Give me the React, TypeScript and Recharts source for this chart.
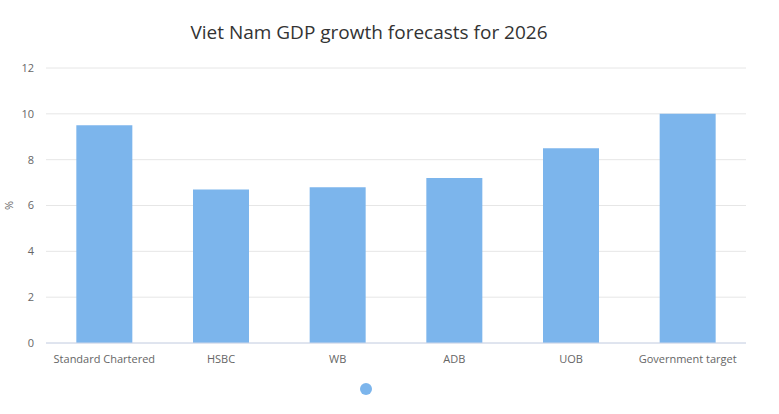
import { Bar, BarChart, CartesianGrid, XAxis, YAxis } from "recharts";

const categories = ["Standard Chartered", "HSBC", "WB", "ADB", "UOB", "Government target"];
const forecasts = [9.5, 6.7, 6.8, 7.2, 8.5, 10];
const yTicks = [0, 2, 4, 6, 8, 10, 12];

const data = categories.map((name, i) => ({ name, value: forecasts[i] }));

const FONT = '"Open Sans", "DejaVu Sans", sans-serif';

export default function App() {
  return (
    <div
      style={{
        position: "absolute",
        left: 0,
        top: 0,
        width: 779,
        height: 414,
        background: "#fff",
        fontFamily: FONT,
      }}
    >
      <div
        style={{
          position: "absolute",
          top: 19,
          left: 0,
          width: 738,
          textAlign: "center",
          fontSize: 19,
          color: "#333",
        }}
      >
        Viet Nam GDP growth forecasts for 2026
      </div>
      <BarChart
        width={779}
        height={414}
        data={data}
        margin={{ top: 68, right: 33, bottom: 0, left: 0 }}
        barCategoryGap="26%"
      >
        <CartesianGrid vertical={false} stroke="#e6e6e6" />
        <XAxis
          dataKey="name"
          tickLine={false}
          axisLine={{ stroke: "#ccd6eb" }}
          tick={{ fill: "#666666", fontSize: 11, fontFamily: FONT }}
          interval={0}
          height={71}
          dy={4}
        />
        <YAxis
          domain={[0, 12]}
          ticks={yTicks}
          width={46}
          tickLine={false}
          axisLine={false}
          tick={{ fill: "#666666", fontSize: 11, fontFamily: FONT }}
          dx={-4}
          label={{
            value: "%",
            angle: -90,
            position: "insideLeft",
            offset: 0,
            dx: 9,
            style: { fill: "#666666", fontSize: 11, fontFamily: FONT, textAnchor: "middle" },
          }}
        />
        <Bar dataKey="value" fill="#7cb5ec" isAnimationActive={false} />
      </BarChart>
      <svg
        width={14}
        height={14}
        style={{ position: "absolute", left: 359, top: 382 }}
      >
        <circle cx={7} cy={7} r={6} fill="#7cb5ec" />
      </svg>
    </div>
  );
}
